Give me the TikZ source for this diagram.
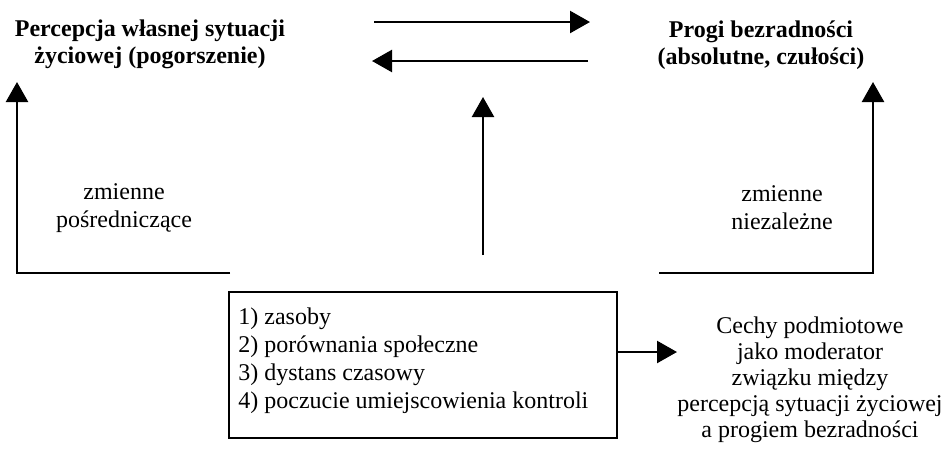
\documentclass[tikz,border=0pt]{standalone}
\usepackage{fontspec}
\setmainfont{Liberation Serif}
\usetikzlibrary{arrows.meta,positioning,calc}

\begin{document}
\begin{tikzpicture}[x=0.5pt,y=-0.5pt,>={Triangle[length=10pt,width=11pt]},
 t/.style={font=\bfseries\fontsize{12}{13.5}\selectfont,align=center,inner sep=0pt},
 l/.style={font=\fontsize{12}{14}\selectfont,align=center,inner sep=0pt},
 a/.style={->,line width=1.2pt}]
\useasboundingbox (0,0) rectangle (943,451);
\node[t] (percep) at (150,44) {Percepcja własnej sytuacji\\życiowej (pogorszenie)};
\node[t] (progi) at (761,45) {Progi bezradności\\(absolutne, czułości)};
\node[l] (posr) at (124,208) {zmienne\\pośredniczące};
\node[l] (niez) at (782,208) {zmienne\\niezależne};
\node[draw,line width=1pt,minimum width=194pt,minimum height=73pt] (ramka) at (423,365) {};
\node[l,align=left,anchor=north west] (lista) at (238,307) {1) zasoby\\2) porównania społeczne\\3) dystans czasowy\\4) poczucie umiejscowienia kontroli};
\node[l,font=\fontsize{12}{13}\selectfont] (cechy) at (810,380) {Cechy podmiotowe\\jako moderator\\związku między\\percepcją sytuacji życiowej\\a progiem bezradności};
\coordinate (g1) at (374,22); \coordinate (g2) at (590,22);
\coordinate (d1) at (588,61); \coordinate (d2) at (372,61);
\coordinate (s1) at (483,255); \coordinate (s2) at (483,97);
\coordinate (lp) at (230,273); \coordinate (lk) at (17,82);
\coordinate (pp) at (659,273); \coordinate (pk) at (873,82);
\draw[a] (g1)--(g2);\draw[a] (d1)--(d2);\draw[a] (s1)--(s2);
\draw[a] (lp) -| (lk);\draw[a] (pp) -| (pk);
\draw[a] ([yshift=6.5pt]ramka.east) -- ([yshift=6.5pt]ramka.east -| cechy.west);
\end{tikzpicture}
\end{document}
